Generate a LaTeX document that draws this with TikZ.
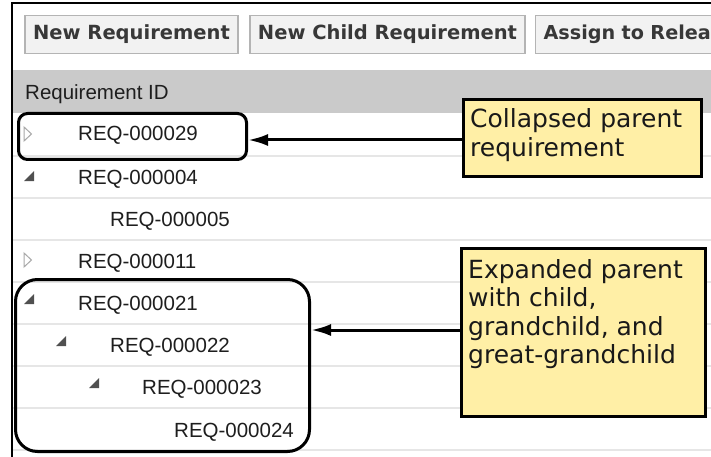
\documentclass[tikz,border=0pt]{standalone}
\usepackage{fontspec}
\setmainfont{Liberation Sans}
\newfontfamily\calloutfont{DejaVu Sans}
\newfontfamily\btnfont{DejaVu Sans}
\usetikzlibrary{arrows.meta}
\definecolor{btnborder}{HTML}{B4B4B4}
\definecolor{btnfill}{HTML}{F2F2F2}
\definecolor{btntext}{HTML}{383838}
\definecolor{headergray}{HTML}{CACACA}
\definecolor{sepcol}{HTML}{E6E6E6}
\definecolor{calloutyellow}{HTML}{FFEFA6}
\definecolor{reqcol}{HTML}{1E1E1E}
\definecolor{triopen}{HTML}{A8A8A8}
\definecolor{trifill}{HTML}{505050}
\tikzset{
  btn/.style={draw=btnborder, fill=btnfill, line width=1.2pt, minimum height=38pt, inner sep=0pt,
    font=\btnfont\bfseries\fontsize{19.5}{22}\selectfont, text=btntext},
  reqtext/.style={anchor=base west, inner sep=0pt, font=\fontsize{20.5}{24}\selectfont, text=reqcol},
  hlbox/.style={draw=black, line width=3pt, inner sep=0pt},
  callout/.style={draw=black, line width=3pt, fill=calloutyellow, inner sep=0pt},
  calltext/.style={anchor=base west, inner sep=0pt, font=\calloutfont\fontsize{25}{28.5}\selectfont, text=black!90},
  arr/.style={line width=3pt, -{Latex[length=20pt,width=12pt]}},
}
\begin{document}
\begin{tikzpicture}[x=1pt,y=-1pt]
\useasboundingbox (0,0) rectangle (711,457);
\fill[white] (0,0) rectangle (711,457);
% header band and row separators
\fill[headergray] (13,70) rectangle (711,113);
\foreach \yy in {156,198,240,282,324,366,408,450}
  \draw[sepcol, line width=1.2pt] (13,\yy) -- (711,\yy);
% frame
\draw[line width=2pt] (12,457) -- (12,3) -- (711,3);
% toolbar buttons
\node[btn, minimum width=213pt] (b1) at (131.5,34.5) {New Requirement};
\node[btn, minimum width=275pt] (b2) at (387.5,34.5) {New Child Requirement};
\node[btn, anchor=west, text width=172pt, inner xsep=8pt, align=left, font=\btnfont\bfseries\fontsize{19.2}{22}\selectfont] (b3) at (535,34.5) {Assign to Relea};
% column header
\node[reqtext] (hdr) at (25,100) {Requirement ID};
% rows
\node[reqtext] (r29) at (78,141) {REQ-000029};
\node[reqtext] (r4)  at (78,184) {REQ-000004};
\node[reqtext] (r5)  at (110,226) {REQ-000005};
\node[reqtext] (r11) at (78,268) {REQ-000011};
\node[reqtext] (r21) at (78,310) {REQ-000021};
\node[reqtext] (r22) at (110,352) {REQ-000022};
\node[reqtext] (r23) at (142,394) {REQ-000023};
\node[reqtext] (r24) at (174,437) {REQ-000024};
% tree toggles: collapsed
\draw[triopen, line width=1pt, line join=miter] (24,127) -- (31.5,134) -- (24,141) -- cycle;
\draw[triopen, line width=1pt, line join=miter] (24,253) -- (31.5,260) -- (24,267) -- cycle;
% tree toggles: expanded
\fill[trifill] (24,181) -- (34,181) -- (34,171) -- cycle;
\fill[trifill] (24,304) -- (34,304) -- (34,294) -- cycle;
\fill[trifill] (56,346) -- (66,346) -- (66,336) -- cycle;
\fill[trifill] (89,388) -- (99,388) -- (99,378) -- cycle;
% highlight boxes
\node[hlbox, rounded corners=9pt, minimum width=228pt, minimum height=46pt] (box1) at (132.5,136.5) {};
\node[hlbox, rounded corners=22pt, minimum width=294pt, minimum height=172pt] (box2) at (162.5,365.5) {};
% callouts
\node[callout, minimum width=238pt, minimum height=77pt] (c1) at (582.5,138) {};
\node[callout, minimum width=244pt, minimum height=168pt] (c2) at (583.5,332.5) {};
\node[calltext] (c1t) at (470,128) {\begin{tabular}[t]{@{}l@{}}Collapsed parent\\requirement\end{tabular}};
\node[calltext] (c2t) at (468,278) {\begin{tabular}[t]{@{}l@{}}Expanded parent\\with child,\\grandchild, and\\great-grandchild\end{tabular}};
% arrows
\draw[arr] ([yshift=-2pt]c1.west) -- ([yshift=-2pt]c1.west -| box1.east);
\draw[arr] ([yshift=2.5pt]c2.west) -- ([yshift=2.5pt]c2.west -| box2.east);
\end{tikzpicture}
\end{document}
